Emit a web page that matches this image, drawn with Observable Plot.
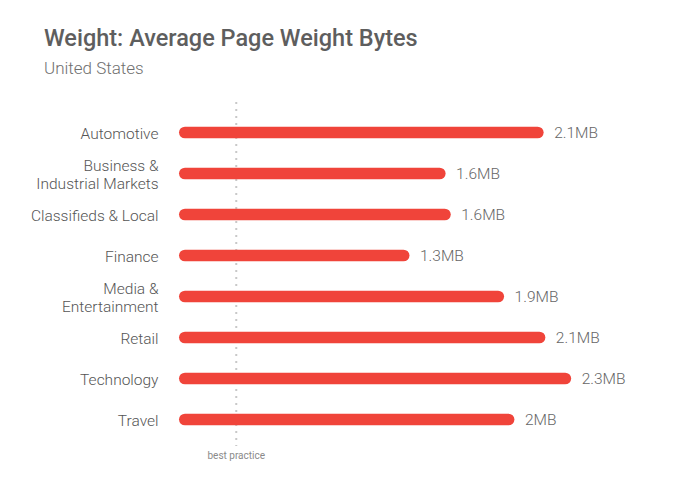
<!DOCTYPE html>
<html>
<head>
<meta charset="utf-8">
<script src="https://cdn.jsdelivr.net/npm/d3@7"></script>
<script src="https://cdn.jsdelivr.net/npm/@observablehq/plot@0.6"></script>
<style>
  body { margin: 0; background: #fff; font-family: Roboto, "Noto Sans", sans-serif; }
  #wrap { width: 688px; height: 495px; position: relative; overflow: hidden; }
  #title { position: absolute; left: 44px; top: 23px; font-size: 23.5px; font-weight: 500; color: #5e5e5e; line-height: 30px; white-space: nowrap; }
  #subtitle { position: absolute; left: 44px; top: 58px; font-size: 17px; font-weight: 300; color: #6f6f6f; line-height: 20px; white-space: nowrap; }
  #chart { position: absolute; left: 0; top: 90px; }
</style>
</head>
<body>
<div id="wrap">
  <div id="title">Weight: Average Page Weight Bytes</div>
  <div id="subtitle">United States</div>
  <div id="chart"></div>
</div>
<script>
const categories = ["Automotive", "Business &\nIndustrial Markets", "Classifieds & Local", "Finance", "Media &\nEntertainment", "Retail", "Technology", "Travel"];
const values = [2.12, 1.55, 1.58, 1.34, 1.89, 2.13, 2.28, 1.95];
const valueLabels = ["2.1MB", "1.6MB", "1.6MB", "1.3MB", "1.9MB", "2.1MB", "2.3MB", "2MB"];
const bestPractice = 0.33;
const bestPracticeLabel = "best practice";

const data = categories.map((c, i) => ({category: c, value: values[i], label: valueLabels[i]}));

const chart = Plot.plot({
  width: 688,
  height: 405,
  marginLeft: 179,
  marginRight: 79,
  marginTop: 20,
  marginBottom: 54,
  style: {fontFamily: "Roboto, 'Noto Sans', sans-serif", background: "transparent"},
  x: {domain: [0, 2.5], axis: null},
  y: {domain: categories, axis: null, padding: 0},
  marks: [
    Plot.ruleX([bestPractice], {x: d => d, stroke: "#c8c8c8", strokeWidth: 2, strokeDasharray: "2,5", insetTop: -8, insetBottom: -5}),
    Plot.text([bestPractice], {x: d => d, frameAnchor: "bottom", dy: 17, text: () => bestPracticeLabel, fontSize: 10, fill: "#8a8a8a"}),
    Plot.barX(data, {x: "value", y: "category", fill: "#f0443a", insetTop: 14.65, insetBottom: 14.65, rx: 6}),
    Plot.text(data, {x: 0, y: "category", text: "category", textAnchor: "end", dx: -21, fontSize: 15.5, fontWeight: 300, fill: "#555", lineHeight: 1.15}),
    Plot.text(data, {x: "value", y: "category", text: "label", textAnchor: "start", dx: 10, fontSize: 15.5, fontWeight: 300, fill: "#666"})
  ]
});
document.getElementById("chart").appendChild(chart);
</script>
</body>
</html>
